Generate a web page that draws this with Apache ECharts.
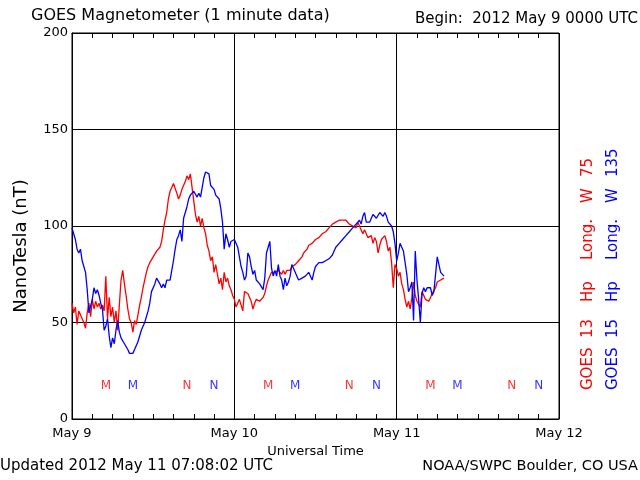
<!DOCTYPE html>
<html>
<head>
<meta charset="utf-8">
<script src="https://cdn.jsdelivr.net/npm/echarts@6/dist/echarts.min.js"></script>
<style>html,body{margin:0;padding:0;background:#fff;}#c{width:640px;height:480px;}</style>
</head>
<body>
<div id="c"></div>
<script>
// Time step of samples (hours after 2012 May 9 00:00 UTC)
var stepHours = 0.25;
var dayLabels = ['May 9', 'May 10', 'May 11', 'May 12'];
var yTicks = [0, 50, 100, 150, 200];

// GOES 13 Hp (nT), sampled every 15 minutes
var goes13 = [
 60,55,58,49,56,54,52,50,47,55, 60,53,62,57,61,58,60,57,59,56,
 74,52,63,53,58,50,56,46,59,72, 77,70,64,57,52,50,45,51,49,54,
 59,63,68,72,76,79,81,82,84,85, 87,88,89,92,98,103,107,114,118,120,
 122,121,117,114,116,119,120,123,126,124, 127,120,113,106,102,105,100,104,99,96,
 90,87,82,84,76,80,75,70,73,67, 76,71,73,69,67,64,62,58,60,62,
 62,56,66,65,65,63,61,57,60,62, 62,61,62,63,65,69,72,74,76,77,
 76,75,77,76,75,77,75,77,76,77, 79,80,80,81,82,82,84,86,87,88,
 90,91,91,92,93,93,94,95,96,96, 97,98,99,100,101,101,102,102,103,102,
 103,104,103,102,101,102,100,101,99,102, 100,99,96,98,97,94,93,95,91,94,
 92,86,90,93,94,95,92,87,89,81, 68,80,78,74,76,70,67,62,58,61,
 57,63,71,64,61,62,58,66,67,62, 63,61,63,65,66,68,71,71,72,72,
 73
];

// GOES 15 Hp (nT), sampled every 15 minutes
var goes15 = [
 99,96,93,88,86,88,82,79,76,67, 55,54,62,68,65,67,64,60,57,46,
 48,52,43,37,42,39,46,51,45,42, 41,39,40,36,34,33,34,36,37,40,
 43,46,48,50,51,56,60,66,67,70, 73,73,70,68,70,68,72,73,72,77,
 82,88,93,95,98,92,104,107,110,114, 116,117,118,117,115,117,115,120,125,128,
 129,127,121,122,119,116,117,114,109,102, 88,96,93,89,92,91,93,92,89,88,
 79,76,72,74,86,84,79,75,77,72, 71,70,69,67,73,86,89,92,78,74,
 77,74,80,74,72,67,73,69,71,74, 80,79,76,74,72,73,73,74,74,75,
 76,77,72,76,79,80,81,81,81,81, 82,82,83,84,85,87,89,90,91,92,
 93,94,95,96,97,98,99,100,101,102, 103,101,105,107,102,103,102,104,106,105,
 104,103,107,108,105,107,105,102,101,100, 97,91,82,86,91,89,87,86,75,66,
 68,71,51,87,72,62,50,65,68,66, 68,67,68,64,66,67,84,80,76,75,
 74
];

// Local midnight (M) / noon (N) markers, hours after start
var markerLetters = ['M', 'N', 'M', 'N', 'M', 'N'];
var markers13Hours = [5, 17, 29, 41, 53, 65];
var markers15Hours = [9, 21, 33, 45, 57, 69];
var markerLevel = 17;

// Right-side satellite labels, word by word
var label13Words = ['GOES', '13', 'Hp', 'Long.', 'W', '75'];
var label15Words = ['GOES', '15', 'Hp', 'Long.', 'W', '135'];

function toPairs(vals) {
  return vals.map(function (v, i) { return [i * stepHours, v]; });
}
function markerPairs(hours) {
  return hours.map(function (h, i) { return { value: [h, markerLevel], name: markerLetters[i] }; });
}

var FONT = 'DejaVu Sans';
var RED = '#ff0000', BLUE = '#0000ff';

// start positions (screen y, text reads upward) for the words of the side labels
var wordStartY = [390, 338, 302, 260, 203, 177];
function sideLabel(words, x, color) {
  return words.map(function (w, i) {
    return { type: 'text', x: x, y: wordStartY[i], rotation: Math.PI / 2,
      style: { text: w, fontFamily: FONT, fontSize: 15, fill: color } };
  });
}

var chart = echarts.init(document.getElementById('c'), null, { renderer: 'canvas' });
var xCommon = {
  type: 'value', min: 0, max: 72, interval: 24,
  axisLine: { show: true, lineStyle: { color: '#000', width: 1 } },
  axisTick: { show: true, inside: true, length: 5, lineStyle: { color: '#000' } },
  minorTick: { show: true, splitNumber: 8, length: 5, lineStyle: { color: '#000' } },
  minorSplitLine: { show: false }
};
chart.setOption({
  animation: false,
  backgroundColor: '#fff',
  textStyle: { fontFamily: FONT },
  grid: { left: 72, right: 81, top: 33, bottom: 61, show: true, borderColor: '#000', borderWidth: 1, backgroundColor: 'transparent' },
  xAxis: [
    Object.assign({}, xCommon, {
      position: 'bottom',
      name: 'Universal Time', nameLocation: 'middle', nameGap: 24,
      nameTextStyle: { fontFamily: FONT, fontSize: 13, color: '#000' },
      splitLine: { show: true, lineStyle: { color: '#000', width: 1 } },
      axisLabel: { show: true, margin: 8, fontFamily: FONT, fontSize: 13, color: '#000',
        formatter: function (v) { return dayLabels[Math.round(v / 24)]; } }
    }),
    Object.assign({}, xCommon, {
      position: 'top',
      splitLine: { show: false },
      axisLabel: { show: false }
    })
  ],
  yAxis: {
    type: 'value', min: yTicks[0], max: yTicks[yTicks.length - 1], interval: 50,
    axisLine: { show: true, lineStyle: { color: '#000' } },
    axisTick: { show: false },
    splitLine: { show: true, lineStyle: { color: '#000', width: 1 } },
    axisLabel: { margin: 4, fontFamily: FONT, fontSize: 13, color: '#000' }
  },
  series: [
    { name: 'GOES 13', type: 'line', xAxisIndex: 0, data: toPairs(goes13), showSymbol: false,
      lineStyle: { color: RED, width: 1.3 }, itemStyle: { color: RED }, z: 3 },
    { name: 'GOES 15', type: 'line', xAxisIndex: 0, data: toPairs(goes15), showSymbol: false,
      lineStyle: { color: BLUE, width: 1.3 }, itemStyle: { color: BLUE }, z: 4 },
    { type: 'scatter', data: markerPairs(markers13Hours), symbolSize: 0,
      label: { show: true, position: 'inside', formatter: '{b}', color: RED, fontFamily: FONT, fontSize: 12 } },
    { type: 'scatter', data: markerPairs(markers15Hours), symbolSize: 0,
      label: { show: true, position: 'inside', formatter: '{b}', color: BLUE, fontFamily: FONT, fontSize: 12 } }
  ],
  graphic: [
    { type: 'text', left: 31, top: 8, style: { text: 'GOES Magnetometer (1 minute data)', fontFamily: FONT, fontSize: 16, fill: '#000' } },
    { type: 'text', right: 2, top: 12, style: { text: 'Begin:  2012 May 9 0000 UTC', fontFamily: FONT, fontSize: 15, fill: '#000' } },
    { type: 'text', left: 0, top: 459, style: { text: 'Updated 2012 May 11 07:08:02 UTC', fontFamily: FONT, fontSize: 15, fill: '#000' } },
    { type: 'text', right: 2, top: 459, style: { text: 'NOAA/SWPC Boulder, CO USA', fontFamily: FONT, fontSize: 14.5, fill: '#000' } },
    { type: 'text', x: 21, y: 246, rotation: Math.PI / 2,
      style: { text: 'NanoTesla (nT)', fontFamily: FONT, fontSize: 18, fill: '#000', align: 'center', verticalAlign: 'middle' } }
  ].concat(sideLabel(label13Words, 581, RED)).concat(sideLabel(label15Words, 606, BLUE))
});
</script>
</body>
</html>
